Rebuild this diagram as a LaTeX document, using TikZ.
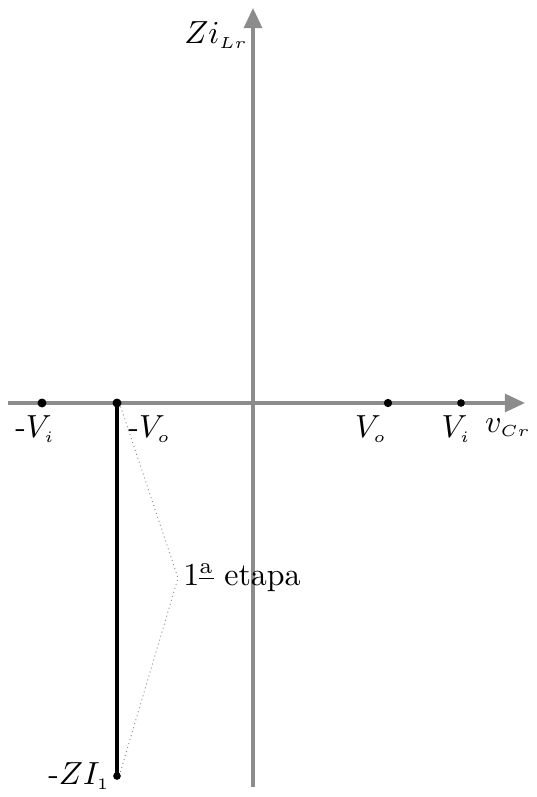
\documentclass[tikz,border=0pt]{standalone}
\usetikzlibrary{arrows.meta}
\definecolor{cAxis}{HTML}{8C8C8C}
\tikzset{
    axis/.style  ={-{Triangle[length=6.3pt, width=5.6pt]}, line width=1.1pt, cAxis},
    path/.style  ={line width=1pt, black},
    guide/.style ={densely dotted, line width=0.3pt, cAxis},
    pt/.style    ={circle, fill=black, inner sep=0pt, minimum size=#1},
    lbl/.style   ={inner sep=1.5pt},
}
\newcommand{\ssub}[1]{_{\scriptscriptstyle #1}}

\begin{document}
\begin{tikzpicture}[x=0.313pt, y=0.313pt]
\useasboundingbox (-253,-394) rectangle (284,403);

% ===================== Ejes =====================
\coordinate (xl) at (-245,0);
\coordinate (xr) at (272,0);
\coordinate (yd) at (0,-384);
\coordinate (yu) at (0,395);
\draw[axis] (xl) -- (xr);
\draw[axis] (yd) -- (yu);
\node[lbl, anchor=north east] (vcr) at (283,-10) {$v\ssub{Cr}$};
\node[lbl, anchor=east] (zilr) at (0,368) {$Zi\ssub{Lr}$};

% ===================== Puntos =====================
\node[pt=2.8pt] (mvi) at (-211,0) {};
\node[pt=2.8pt] (mvo) at (-136,0) {};
\node[pt=2.6pt] (vo)  at (135,0) {};
\node[pt=2.4pt] (vi)  at (208,0) {};
\node[pt=2.4pt] (mzi) at (-136,-373) {};

\node[lbl, anchor=north] at (-218,-7) {-$V\ssub{i}$};
\node[lbl, anchor=north west] at (-130,-7) {-$V\ssub{o}$};
\node[lbl, anchor=north east] at (139,-7) {$V\ssub{o}$};
\node[lbl, anchor=north] at (203,-7) {$V\ssub{i}$};
\node[lbl, anchor=east] at (-138,-373) {-$ZI\ssub{1}$};

% ===================== Primera etapa =====================
\draw[path] (mvo.center) -- (mzi.center);
\coordinate (tip) at (-75,-175);
\draw[guide] (mvo.south east) -- (tip) -- (mzi.north east);
\node[lbl, anchor=west] (etapa) at (tip) {1$^{\underline{\mathrm{a}}}$ etapa};

\end{tikzpicture}
\end{document}
